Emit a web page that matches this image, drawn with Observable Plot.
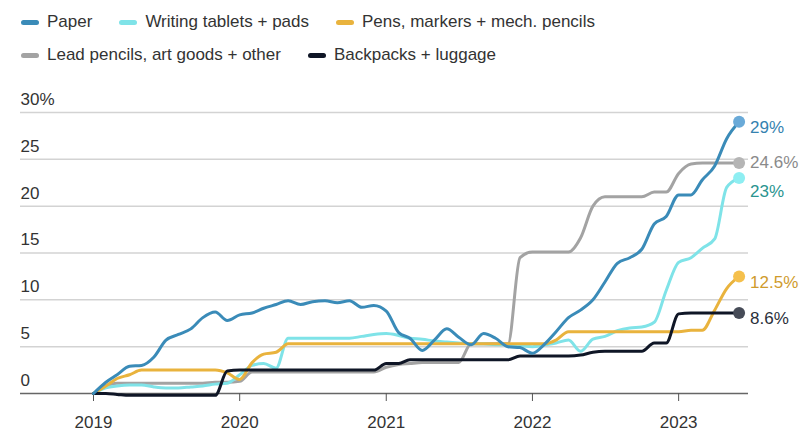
<!DOCTYPE html>
<html><head><meta charset="utf-8">
<script src="https://cdn.jsdelivr.net/npm/d3@7"></script>
<script src="https://cdn.jsdelivr.net/npm/@observablehq/plot@0.6"></script>
<style>
body{margin:0;background:#fff;font-family:"Liberation Sans",Arial,sans-serif;}
#legend{height:75px;position:relative;}
.row{position:absolute;left:21px;display:flex;align-items:center;font-size:17px;color:#333;line-height:20px;}
.item{display:flex;align-items:center;margin-right:27px;}
.sw{width:18px;height:5px;border-radius:3px;margin-right:8px;}
</style></head><body>
<div id="legend"></div>
<div id="chart"></div>
<script>
// Monthly % change since Jan 2019
const startMonth = "2019-01-01";
const endMonth = "2023-06-01";
const seriesNames = ["Paper", "Writing tablets + pads", "Pens, markers + mech. pencils", "Lead pencils, art goods + other", "Backpacks + luggage"];
const paper = [0,1.2,2.0,2.9,3.0,3.9,5.7,6.3,6.9,8.1,8.7,7.8, 8.4,8.6,9.1,9.5,9.9,9.5,9.8,9.9,9.7,9.9,9.2,9.4, 8.8,6.5,5.9,4.6,5.7,6.9,6.0,5.2,6.4,5.9,5.0,4.9, 4.3,5.3,6.6,8.1,8.9,10.0,11.9,13.9,14.5,15.4,18.1,18.9, 21.2,21.2,22.8,24.3,27.2,29];
const writing = [0,0.6,0.8,0.9,0.9,0.7,0.6,0.6,0.7,0.8,1.0,1.1, 2.0,3.0,3.2,2.7,5.9,5.9,5.9,5.9,5.9,5.9,6.1,6.3, 6.4,6.2,5.9,5.8,5.6,5.5,5.4,5.3,5.3,5.2,5.2,5.1, 5.0,5.2,5.4,5.7,4.5,5.8,6.1,6.7,7.0,7.1,7.6,11.0, 14.0,14.5,15.5,16.5,22.0,23];
const pens = [0,0.8,1.6,2.0,2.5,2.5,2.5,2.5,2.5,2.5,2.5,2.2, 1.5,3.3,4.2,4.4,5.3,5.3,5.3,5.3,5.3,5.3,5.3,5.3, 5.3,5.3,5.3,5.3,5.3,5.3,5.3,5.3,5.3,5.3,5.3,5.3, 5.3,5.3,5.7,6.6,6.6,6.6,6.6,6.6,6.6,6.6,6.6,6.6, 6.6,6.75,6.75,8.9,11.2,12.5];
const lead = [0,0.8,1.1,1.1,1.1,1.1,1.1,1.1,1.1,1.1,1.2,1.2, 1.3,2.3,2.3,2.3,2.3,2.3,2.3,2.3,2.3,2.3,2.3,2.3, 2.8,3.1,3.2,3.3,3.3,3.3,3.3,5.3,5.3,5.3,5.3,14.5, 15.1,15.1,15.1,15.1,16.6,20.0,21.0,21.0,21.0,21.0,21.5,21.5, 23.5,24.5,24.6,24.6,24.6,24.6];
const backpacks = [0,0,-0.1,-0.2,-0.2,-0.2,-0.2,-0.2,-0.2,-0.2,-0.2,2.4, 2.5,2.5,2.5,2.5,2.5,2.5,2.5,2.5,2.5,2.5,2.5,2.5, 3.2,3.2,3.6,3.6,3.6,3.6,3.6,3.6,3.6,3.6,3.6,4.0, 4.0,4.0,4.0,4.0,4.1,4.4,4.5,4.5,4.5,4.5,5.4,5.4, 8.5,8.6,8.6,8.6,8.6,8.6];
const endLabels = ["29%", "23%", "12.5%", "24.6%", "8.6%"];
const yTicks = [0,5,10,15,20,25,30];
const yearTicks = ["2019-01-01","2020-01-01","2021-01-01","2022-01-01","2023-01-01"];

// styles
const lineColors = ["#3a8bb8", "#7fe3e8", "#e9b33d", "#a3a3a3", "#0f1626"];
const dotColors = ["#6aaad8", "#8eeef2", "#f5c04c", "#b5b5b5", "#464b57"];
const labelColors = ["#3582b0", "#2a948f", "#cf9b2c", "#8a8a8a", "#2b2f3a"];
const labelDy = [6, 13, 6, -1, 6];
const drawOrder = [3, 1, 2, 4, 0];

const months = d3.utcMonth.range(new Date(startMonth), d3.utcMonth.offset(new Date(endMonth), 1));
const values = [paper, writing, pens, lead, backpacks];
const rows = [];
drawOrder.forEach(i => values[i].forEach((v, k) => rows.push({date: months[k], series: seriesNames[i], value: v})));
const last = seriesNames.map((s, i) => ({date: months[months.length - 1], series: s, value: values[i][values[i].length - 1], i}));

// legend
const legendRows = [[0, 1, 2], [3, 4]];
const lg = document.getElementById("legend");
legendRows.forEach((r, ri) => {
  const row = document.createElement("div");
  row.className = "row";
  row.style.top = (ri === 0 ? 12 : 45) + "px";
  r.forEach(i => {
    const it = document.createElement("div");
    it.className = "item";
    it.innerHTML = `<span class="sw" style="background:${lineColors[i]}"></span><span>${seriesNames[i]}</span>`;
    row.appendChild(it);
  });
  lg.appendChild(row);
});

const plot = Plot.plot({
  width: 800, height: 355,
  marginLeft: 20, marginRight: 52, marginTop: 37, marginBottom: 37,
  x: {type: "utc", domain: [new Date(startMonth), new Date(endMonth)], range: [93, 738.6]},
  y: {domain: [0, 30]},
  color: {domain: seriesNames, range: lineColors},
  style: {fontFamily: '"Liberation Sans", Arial, sans-serif', fontSize: "17px", color: "#333", background: "#fff", overflow: "visible"},
  marks: [
    Plot.ruleY(yTicks.filter(d => d > 0), {stroke: "#d3d3d3", strokeWidth: 1.5}),
    Plot.ruleY([0], {stroke: "#666", strokeWidth: 1.5}),
    Plot.axisY({ticks: yTicks, tickSize: 0, tickPadding: 0, textAnchor: "start", dy: -13, label: null, fill: "#333",
      tickFormat: d => d === 30 ? "30%" : String(d)}),
    Plot.axisX({ticks: yearTicks.map(d => new Date(d)), tickSize: 8, tickPadding: 14, label: null, stroke: "#555", fill: "#333",
      tickFormat: d3.utcFormat("%Y")}),
    Plot.line(rows, {x: "date", y: "value", z: "series", stroke: "series", strokeWidth: 3, curve: "monotone-x"}),
    Plot.dot(last, {x: "date", y: "value", r: 6, fill: d => dotColors[d.i], stroke: "none"}),
    ...last.map(d => Plot.text([d], {x: "date", y: "value", text: () => endLabels[d.i], dx: 11, dy: labelDy[d.i], textAnchor: "start", fill: labelColors[d.i], fontSize: 17}))
  ]
});
document.getElementById("chart").appendChild(plot);
</script>
</body></html>
